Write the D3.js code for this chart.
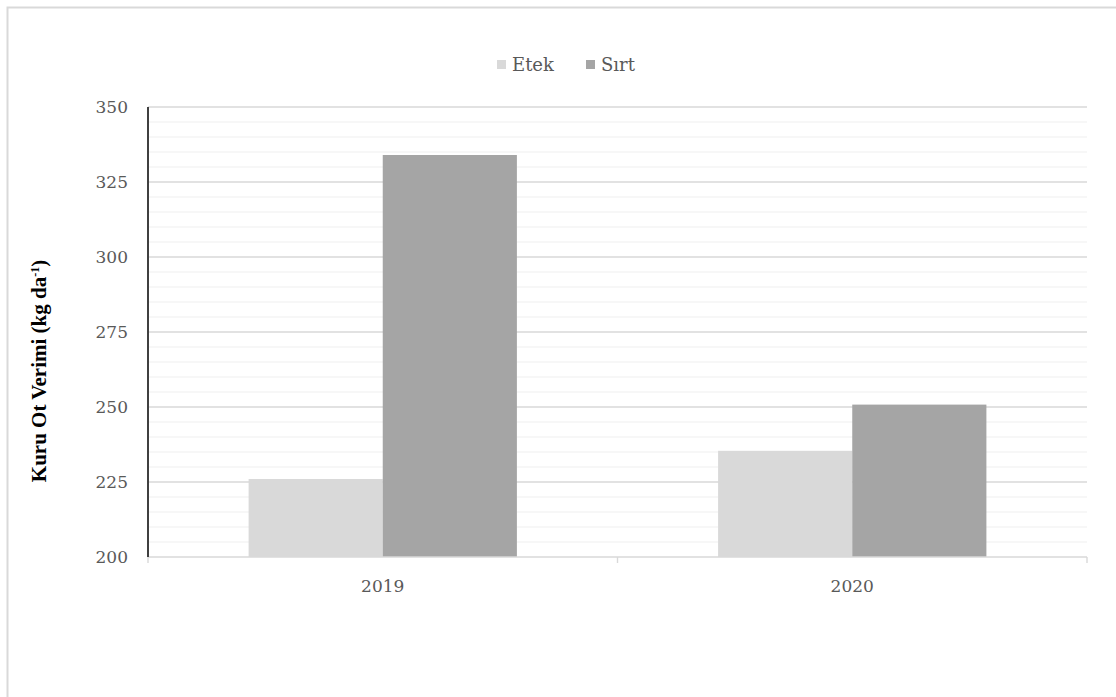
<!DOCTYPE html>
<html>
<head>
<meta charset="utf-8">
<script src="https://cdn.jsdelivr.net/npm/d3@7"></script>
<style>
  html, body { margin: 0; padding: 0; background: #fff; }
  svg { display: block; }
</style>
</head>
<body>
<svg id="chart" width="1116" height="697"></svg>
<script>
// Dry hay yield by slope position and year
const years = ["2019", "2020"];
const seriesNames = ["Etek", "Sırt"];
const etekValues = [226, 235.4];
const sirtValues = [334, 250.8];
const yTicks = [200, 225, 250, 275, 300, 325, 350];
const seriesColors = ["#d9d9d9", "#a5a5a5"];

const svg = d3.select("#chart");
const W = 1116, H = 697;
const m = { left: 148, right: 1087, top: 107, bottom: 557 };
const serif = "'DejaVu Serif', 'Liberation Serif', serif";

// outer frame (only top/left edges fall inside the view)
svg.append("rect")
  .attr("x", 7.5).attr("y", 7.5)
  .attr("width", W + 20).attr("height", H + 20)
  .attr("fill", "none").attr("stroke", "#d9d9d9").attr("stroke-width", 2);

const x0 = d3.scaleBand().domain(years).range([m.left, m.right]).paddingInner(0).paddingOuter(0);
const x1 = d3.scaleBand().domain(seriesNames).range([0, x0.bandwidth()]).paddingInner(0).paddingOuter(0.75);
const y = d3.scaleLinear().domain([200, 350]).range([m.bottom, m.top]);

// minor gridlines every 5
const minor = d3.range(205, 350, 5).filter(v => v % 25 !== 0);
svg.append("g").selectAll("line").data(minor).join("line")
  .attr("x1", m.left).attr("x2", m.right)
  .attr("y1", d => y(d)).attr("y2", d => y(d))
  .attr("stroke", "#f0f0f0").attr("stroke-width", 1.2);

// major gridlines
svg.append("g").selectAll("line").data(yTicks.filter(v => v > 200)).join("line")
  .attr("x1", m.left).attr("x2", m.right)
  .attr("y1", d => y(d)).attr("y2", d => y(d))
  .attr("stroke", "#d9d9d9").attr("stroke-width", 1.4);

// bars
const rows = years.map((yr, i) => ({ year: yr, vals: [etekValues[i], sirtValues[i]] }));
const g = svg.append("g");
rows.forEach(r => {
  r.vals.forEach((v, j) => {
    g.append("rect")
      .attr("x", x0(r.year) + x1(seriesNames[j]))
      .attr("y", y(v))
      .attr("width", x1.bandwidth())
      .attr("height", y(200) - y(v))
      .attr("fill", seriesColors[j]);
  });
});

// x axis
const xAxis = svg.append("g").attr("transform", `translate(0,${m.bottom})`);
xAxis.append("line").attr("x1", m.left).attr("x2", m.right).attr("stroke", "#d9d9d9").attr("stroke-width", 1.4);
const xTickPos = [m.left, m.left + x0.bandwidth(), m.right];
xAxis.selectAll("line.tk").data(xTickPos).join("line").attr("class", "tk")
  .attr("x1", d => d).attr("x2", d => d).attr("y1", 0).attr("y2", 6)
  .attr("stroke", "#d9d9d9").attr("stroke-width", 1.4);
xAxis.selectAll("text").data(years).join("text")
  .attr("x", d => x0(d) + x0.bandwidth() / 2)
  .attr("y", 35)
  .attr("text-anchor", "middle")
  .attr("font-family", serif).attr("font-size", 17).attr("fill", "#595959")
  .text(d => d);

// y axis
const yAxis = svg.append("g").attr("transform", `translate(${m.left},0)`);
yAxis.append("line").attr("y1", m.top).attr("y2", m.bottom).attr("stroke", "#404040").attr("stroke-width", 2);
yAxis.selectAll("text").data(yTicks).join("text")
  .attr("x", -20).attr("y", d => y(d)).attr("dy", "0.35em")
  .attr("text-anchor", "end")
  .attr("font-family", serif).attr("font-size", 17).attr("fill", "#595959")
  .text(d => d);

// y axis title
svg.append("text")
  .attr("transform", `translate(46,371) rotate(-90)`)
  .attr("text-anchor", "middle")
  .attr("font-family", "'Liberation Serif', 'Times New Roman', serif")
  .attr("font-weight", "bold").attr("font-size", 21).attr("fill", "#000")
  .html('Kuru Ot Verimi (kg da<tspan baseline-shift="super" font-size="12">-1</tspan>)');

// legend
const legend = svg.append("g");
const legItems = [{ name: "Etek", x: 497 }, { name: "Sırt", x: 586 }];
legItems.forEach((it, i) => {
  legend.append("rect").attr("x", it.x).attr("y", 60).attr("width", 9).attr("height", 9).attr("fill", seriesColors[i]);
  legend.append("text").attr("x", it.x + 15).attr("y", 65).attr("dy", "0.35em")
    .attr("font-family", serif).attr("font-size", 18).attr("fill", "#595959")
    .text(it.name);
});
</script>
</body>
</html>
